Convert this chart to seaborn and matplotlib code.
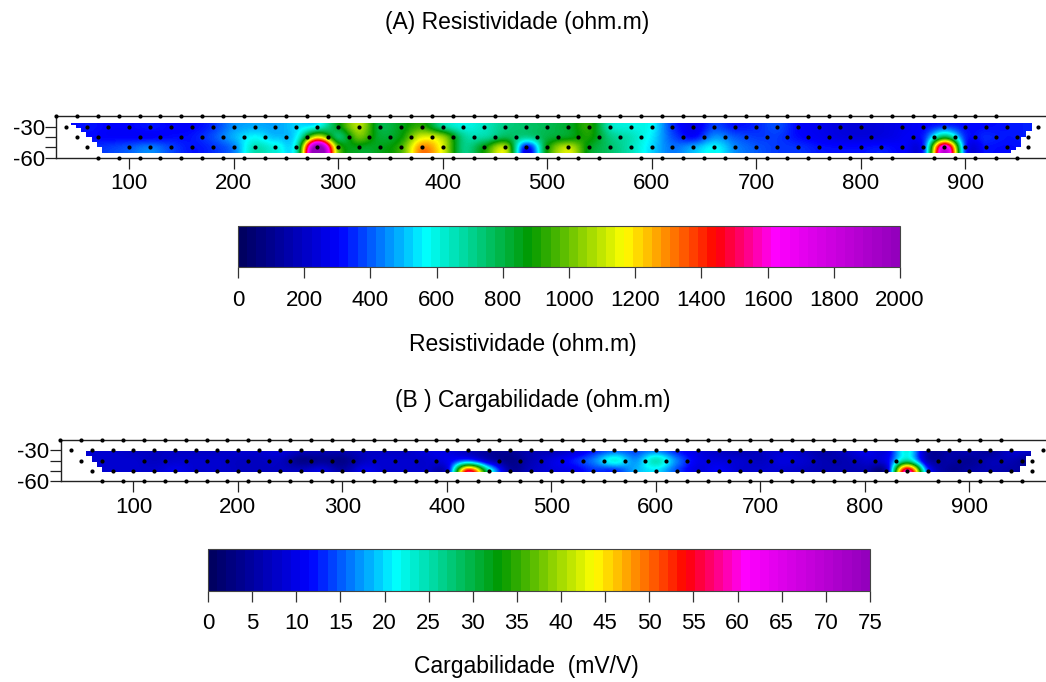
import numpy as np
import pandas as pd
import seaborn as sns
import matplotlib.pyplot as plt
from matplotlib.cm import ScalarMappable
from matplotlib.colors import LinearSegmentedColormap, Normalize
from matplotlib.patches import Polygon

# field nodes, x along the line and depth of each row
field_x = [40, 60, 80, 100, 120, 140, 160, 180, 200, 220, 240, 260, 280, 300, 320, 340,
           360, 380, 400, 420, 440, 460, 480, 500, 520, 540, 560, 580, 600, 620, 640, 660,
           680, 700, 720, 740, 760, 780, 800, 820, 840, 860, 880, 900, 920, 940, 960]

res_m30 = [300, 320, 300, 300, 320, 300, 300, 350, 450, 480, 470, 520, 590, 850, 1080, 800,
           850, 930, 700, 600, 640, 720, 750, 780, 830, 920, 650, 600, 560, 350, 270, 370,
           320, 340, 380, 300, 270, 240, 230, 240, 270, 300, 360, 310, 310, 320, 330]
res_m40 = [300, 310, 300, 300, 300, 310, 320, 380, 480, 560, 500, 560, 1150, 760, 1000, 820,
           880, 1130, 1050, 700, 680, 780, 700, 800, 850, 900, 720, 650, 540, 380, 310, 450,
           390, 360, 360, 310, 280, 250, 240, 250, 280, 340, 800, 340, 340, 320, 330]
res_m50 = [340, 340, 360, 390, 430, 370, 320, 350, 430, 650, 600, 650, 2100, 1000, 850, 850,
           950, 1300, 1130, 720, 880, 1080, 300, 880, 1100, 850, 750, 650, 520, 420, 480, 560,
           440, 390, 360, 350, 320, 310, 310, 320, 300, 360, 1750, 350, 320, 310, 320]

carg_m30 = [8, 8, 8, 7, 7, 7, 7, 7, 8, 8, 9, 7, 6, 6, 7, 7,
            7, 9, 9, 6, 4, 4, 6, 6, 8, 12, 15, 14, 16, 12, 9, 7,
            6, 7, 8, 7, 5, 7, 10, 9, 22, 5, 5, 6, 4, 8, 8]
carg_m40 = [8, 8, 8, 8, 7, 8, 8, 8, 7, 7, 7, 3, 4, 3, 7, 8,
            8, 8, 10, 15, 7, 3, 6, 9, 12, 16, 22, 17, 24, 16, 10, 9,
            8, 7, 9, 8, 6, 6, 8, 10, 26, 6, 5, 4, 6, 6, 3]
carg_m50 = [8, 8, 8, 8, 8, 10, 8, 8, 7, 7, 7, 7, 9, 5, 10, 8,
            8, 8, 9, 55, 25, 5, 7, 9, 10, 13, 13, 18, 20, 14, 9, 11,
            8, 8, 8, 7, 6, 6, 6, 6, 60, 14, 4, 5, 6, 5, 5]

# measurement points per depth row
top_x = [30, 50, 70, 90, 110, 130, 150, 170, 190, 210, 230, 250, 270, 290, 310, 330, 350, 370,
         390, 410, 430, 450, 470, 490, 510, 530, 550, 570, 590, 610, 630, 650, 670, 690, 710,
         730, 750, 770, 790, 810, 830, 850, 870, 890, 910, 930]
a_m30_x = [40, 60, 80, 100, 120, 140, 160, 180, 200, 220, 240, 260, 280, 300, 320, 340, 360, 380,
           400, 420, 440, 460, 480, 500, 520, 540, 560, 580, 600, 620, 640, 660, 680, 700, 720,
           740, 760, 780, 800, 840, 860, 880, 900, 920, 940, 970]
a_m40_x = [50, 70, 110, 130, 150, 170, 190, 210, 230, 250, 270, 290, 310, 330, 350, 370, 390, 410,
           430, 450, 470, 490, 510, 530, 550, 570, 590, 630, 650, 670, 690, 710, 730, 750, 770,
           790, 810, 850, 870, 890, 910, 930, 950, 960]
a_m50_x = [60, 100, 120, 140, 160, 180, 200, 220, 240, 260, 280, 300, 320, 340, 360, 380, 400,
           440, 460, 480, 500, 520, 540, 560, 580, 600, 620, 640, 660, 680, 700, 720, 740, 760,
           780, 800, 820, 840, 860, 880, 900, 920, 940, 960]
a_m60_x = [70, 90, 110, 130, 150, 170, 190, 210, 230, 250, 270, 290, 310, 330, 350, 370, 390, 410,
           430, 450, 470, 490, 510, 530, 550, 590, 610, 630, 650, 670, 690, 710, 730, 750, 770,
           790, 810, 830, 870, 890, 910, 930, 950]

b_m30_x = [40, 60, 80, 100, 120, 140, 160, 180, 200, 220, 240, 260, 280, 300, 320, 340, 360, 380,
           400, 420, 440, 460, 480, 500, 520, 540, 560, 580, 600, 620, 640, 660, 680, 700, 720,
           740, 760, 780, 800, 860, 880, 900, 920, 940, 970]
b_m40_x = [50, 70, 110, 130, 150, 170, 190, 210, 230, 250, 270, 290, 310, 330, 350, 370, 390, 450,
           470, 490, 510, 530, 550, 570, 590, 610, 630, 650, 670, 690, 710, 730, 750, 770, 790,
           810, 830, 870, 890, 910, 930, 950, 960]
b_m50_x = [60, 80, 100, 120, 140, 160, 180, 200, 220, 240, 260, 280, 300, 320, 340, 360, 380, 400,
           440, 460, 480, 500, 520, 540, 560, 580, 600, 620, 640, 660, 680, 700, 720, 740, 760,
           780, 800, 820, 840, 860, 900, 920, 940, 960]
b_m60_x = [70, 90, 110, 130, 150, 170, 190, 210, 230, 250, 270, 290, 310, 330, 350, 370, 390, 410,
           430, 450, 470, 490, 510, 530, 550, 570, 590, 610, 630, 650, 670, 690, 710, 730, 750,
           770, 790, 810, 830, 870, 890, 910, 930, 950]

# outline of the gridded area
a_outline = [(44, -26.4), (964, -26.4), (964, -34), (958.6, -34), (958.6, -40), (954, -40),
             (954, -49.4), (949, -49.4), (949, -52.6), (944, -52.6), (944, -55.2), (74, -55.2),
             (74, -49.4), (69, -49.4), (69, -44.6), (64, -44.6), (64, -40), (59, -40), (59, -35.4),
             (54, -35.4), (54, -31), (49, -31), (49, -28.5), (44, -28.5)]
b_outline = [(54.6, -31), (959, -31), (959, -35.7), (954, -35.7), (954, -45), (948, -45),
             (948, -51), (70, -51), (70, -45.8), (65, -45.8), (65, -41), (60, -41), (60, -35.7),
             (54.6, -35.7)]

x_ticks = [100, 200, 300, 400, 500, 600, 700, 800, 900]
y_ticks = [-30, -40, -50, -60]
y_labels = ['-30', '', '', '-60']
res_ticks = [0, 200, 400, 600, 800, 1000, 1200, 1400, 1600, 1800, 2000]
carg_ticks = [0, 5, 10, 15, 20, 25, 30, 35, 40, 45, 50, 55, 60, 65, 70, 75]

sns.set_theme(style='white')
plt.rcParams['font.family'] = ['Liberation Sans', 'DejaVu Sans']
plt.rcParams['axes.unicode_minus'] = False
plt.rcParams['text.color'] = 'black'

W, H = 1046, 682
fs = 16
title_fs = 16.5
fig = plt.figure(figsize=(W / 100, H / 100), dpi=100, facecolor='white')

cmap = LinearSegmentedColormap.from_list('surfer', [
    (0.0, (0, 0, 0.38)), (0.15, (0, 0, 1)), (0.28, (0, 1, 1)), (0.44, (0, 0.6, 0)),
    (0.585, (1, 1, 0)), (0.725, (1, 0, 0)), (0.815, (1, 0, 1)), (1.0, (0.58, 0, 0.74))], N=256)
bar_cmap = cmap.resampled(72)


def px_axes(left, top, right, bottom):
    return fig.add_axes([left / W, 1 - bottom / H, (right - left) / W, (bottom - top) / H])


def section(box, xlim, rows, vmax, outline, points):
    ax = px_axes(*box)
    im = ax.imshow(np.array(rows), extent=[field_x[0] - 10, field_x[-1] + 10, -55, -25],
                   origin='upper', aspect='auto', cmap=cmap, vmin=0, vmax=vmax,
                   interpolation='catrom', interpolation_stage='data')
    im.set_clip_path(Polygon(outline, closed=True, transform=ax.transData))
    pts = pd.concat([pd.DataFrame({'x': xs, 'z': z}) for z, xs in points])
    sns.scatterplot(data=pts, x='x', y='z', color='black', s=9, linewidth=0, legend=False,
                    ax=ax, clip_on=False, zorder=5)
    ax.set_xlim(*xlim)
    ax.set_ylim(-60, -20)
    ax.set_xticks(x_ticks)
    ax.set_yticks(y_ticks)
    ax.set_yticklabels(y_labels)
    ax.set_xlabel('')
    ax.set_ylabel('')
    ax.spines['right'].set_visible(False)
    for s in ax.spines.values():
        s.set_linewidth(1.0)
        s.set_color('#222222')
    ax.tick_params(left=True, bottom=True, length=8, width=0.9, color='#222222',
                   labelsize=fs, pad=3, labelcolor='black')
    ax.tick_params(axis='y', pad=0)
    ax.set_facecolor('white')
    return ax


def scale_bar(box, vmax, ticks, label, label_y, label_x):
    cax = px_axes(*box)
    cb = fig.colorbar(ScalarMappable(Normalize(0, vmax), bar_cmap), cax=cax,
                      orientation='horizontal', ticks=ticks)
    cb.outline.set_linewidth(0.8)
    cb.outline.set_edgecolor('#444444')
    cax.tick_params(bottom=True, length=8, width=0.9, color='#333333', labelsize=fs, pad=8,
                    labelcolor='black')
    fig.text(label_x / W, 1 - label_y / H, label, ha='center', va='center', fontsize=title_fs)


section((56, 116.3, W, 157.7), (30, 977.5), [res_m30, res_m40, res_m50], 2000, a_outline,
        [(-20, top_x), (-30, a_m30_x), (-40, a_m40_x), (-50, a_m50_x), (-60, a_m60_x)])
section((60.7, 440, W, 481.3), (30.4, 973.3), [carg_m30, carg_m40, carg_m50], 75, b_outline,
        [(-20, top_x), (-30, b_m30_x), (-40, b_m40_x), (-50, b_m50_x), (-60, b_m60_x)])

scale_bar((238, 225.7, 900, 267.3), 2000, res_ticks, 'Resistividade (ohm.m)', 345, 523)
scale_bar((208, 549, 870, 591), 75, carg_ticks, 'Cargabilidade  (mV/V)', 666, 526)

fig.text(517 / W, 1 - 23 / H, '(A) Resistividade (ohm.m)', ha='center', va='center',
         fontsize=title_fs)
fig.text(533 / W, 1 - 400 / H, '(B ) Cargabilidade (ohm.m)', ha='center', va='center',
         fontsize=title_fs)

fig.savefig('out.png', dpi=100)
